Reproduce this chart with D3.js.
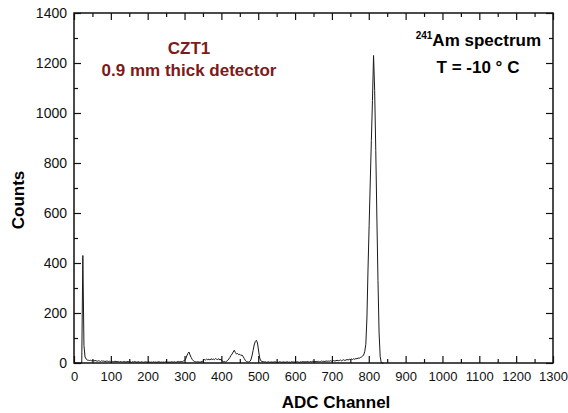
<!DOCTYPE html>
<html>
<head>
<meta charset="utf-8">
<script src="https://cdn.jsdelivr.net/npm/d3@7.9.0/dist/d3.min.js"></script>
<style>
  body { margin: 0; background: #fff; }
  svg { display: block; font-family: "Liberation Sans", Arial, sans-serif; }
</style>
</head>
<body>
<svg id="chart" width="568" height="413"></svg>
<script>
// spectrum sampled every 3 ADC channels, starting at channel 0
const channelStep = 3;
const counts = [
  0, 0, 0, 0, 0, 0, 0, 0, 430, 70,
  24, 16, 12, 11, 10, 11, 9, 10, 8, 10,
  9, 7, 9, 8, 6, 9, 7, 8, 6, 7,
  8, 6, 7, 5, 8, 6, 5, 7, 6, 5,
  6, 4, 6, 5, 4, 6, 5, 4, 5, 6,
  4, 5, 3, 5, 4, 6, 4, 3, 5, 4,
  3, 5, 4, 3, 4, 5, 3, 4, 4, 3,
  4, 3, 5, 3, 4, 3, 4, 5, 3, 4,
  3, 4, 3, 5, 4, 3, 4, 3, 5, 4,
  4, 5, 3, 4, 6, 4, 5, 6, 5, 8,
  10, 16, 28, 38, 44, 32, 22, 14, 9, 6,
  5, 4, 5, 4, 3, 5, 6, 10, 14, 12,
  16, 13, 15, 12, 17, 14, 16, 13, 18, 15,
  14, 17, 12, 15, 8, 5, 6, 4, 7, 10,
  16, 22, 30, 36, 44, 51, 42, 36, 38, 33,
  35, 30, 32, 26, 18, 10, 6, 5, 4, 6,
  12, 28, 50, 72, 86, 91, 80, 48, 20, 9,
  6, 5, 4, 5, 3, 4, 5, 3, 4, 4,
  3, 4, 5, 3, 4, 3, 5, 4, 3, 4,
  4, 3, 4, 5, 3, 4, 3, 5, 4, 4,
  3, 4, 5, 4, 3, 5, 4, 6, 4, 5,
  4, 6, 5, 4, 6, 5, 7, 5, 6, 5,
  6, 7, 5, 6, 8, 6, 7, 6, 8, 7,
  8, 7, 9, 7, 8, 10, 8, 9, 11, 9,
  10, 12, 9, 11, 13, 10, 12, 14, 12, 15,
  13, 16, 14, 17, 15, 18, 17, 20, 19, 22,
  24, 27, 32, 45, 75, 180, 380, 550, 720, 890,
  1050, 1230, 1090, 850, 580, 330, 120, 25, 0, 0,
  0
];

const xTicks = d3.range(0, 1301, 100);
const xMinorTicks = d3.range(50, 1300, 100);
const yTicks = d3.range(0, 1401, 200);
const yMinorTicks = d3.range(100, 1400, 200);

const plotLeft = 74, plotRight = 553, plotTop = 13, plotBottom = 363;

const x = d3.scaleLinear().domain([0, 1300]).range([plotLeft, plotRight]);
const y = d3.scaleLinear().domain([0, 1400]).range([plotBottom, plotTop]);

const svg = d3.select("#chart");

const spectrum = counts.map((c, i) => ({ ch: i * channelStep, c }));

svg.append("path")
  .datum(spectrum)
  .attr("fill", "none")
  .attr("stroke", "#1a1a1a")
  .attr("stroke-width", 1)
  .attr("d", d3.line().x(d => x(d.ch)).y(d => y(d.c)));

function styleAxis(g) {
  g.select(".domain").remove();
  g.selectAll("line").attr("stroke", "#111").attr("stroke-width", 1.2);
  g.selectAll("text").attr("fill", "#111");
  g.attr("font-family", null);
}

const plain = d3.format("d");

// major and minor ticks, pointing inward on all four sides
svg.append("g")
  .attr("transform", `translate(0,${plotBottom})`)
  .call(d3.axisBottom(x).tickValues(xTicks).tickFormat(plain).tickSize(-7).tickPadding(9))
  .attr("font-size", 13)
  .call(styleAxis);
svg.append("g")
  .attr("transform", `translate(0,${plotBottom})`)
  .call(d3.axisBottom(x).tickValues(xMinorTicks).tickSize(-4).tickFormat(""))
  .call(styleAxis);
svg.append("g")
  .attr("transform", `translate(0,${plotTop})`)
  .call(d3.axisTop(x).tickValues(xTicks).tickSize(-7).tickFormat(""))
  .call(styleAxis);
svg.append("g")
  .attr("transform", `translate(0,${plotTop})`)
  .call(d3.axisTop(x).tickValues(xMinorTicks).tickSize(-4).tickFormat(""))
  .call(styleAxis);

svg.append("g")
  .attr("transform", `translate(${plotLeft},0)`)
  .call(d3.axisLeft(y).tickValues(yTicks).tickFormat(plain).tickSize(-7).tickPadding(7))
  .attr("font-size", 14)
  .call(styleAxis);
svg.append("g")
  .attr("transform", `translate(${plotLeft},0)`)
  .call(d3.axisLeft(y).tickValues(yMinorTicks).tickSize(-4).tickFormat(""))
  .call(styleAxis);
svg.append("g")
  .attr("transform", `translate(${plotRight},0)`)
  .call(d3.axisRight(y).tickValues(yTicks).tickSize(-7).tickFormat(""))
  .call(styleAxis);
svg.append("g")
  .attr("transform", `translate(${plotRight},0)`)
  .call(d3.axisRight(y).tickValues(yMinorTicks).tickSize(-4).tickFormat(""))
  .call(styleAxis);

svg.append("rect")
  .attr("x", plotLeft).attr("y", plotTop)
  .attr("width", plotRight - plotLeft).attr("height", plotBottom - plotTop)
  .attr("fill", "none")
  .attr("stroke", "#111")
  .attr("stroke-width", 1.5);

// axis titles
svg.append("text")
  .attr("x", 336).attr("y", 408)
  .attr("text-anchor", "middle")
  .attr("font-size", 17).attr("font-weight", "bold")
  .text("ADC Channel");

svg.append("text")
  .attr("transform", "translate(24,200) rotate(-90)")
  .attr("text-anchor", "middle")
  .attr("font-size", 17).attr("font-weight", "bold")
  .text("Counts");

// annotations
const red = "#7d1a1a";
svg.append("text")
  .attr("x", 189).attr("y", 54)
  .attr("text-anchor", "middle").attr("fill", red)
  .attr("font-size", 17).attr("font-weight", "bold")
  .text("CZT1");
svg.append("text")
  .attr("x", 189).attr("y", 76)
  .attr("text-anchor", "middle").attr("fill", red)
  .attr("font-size", 17).attr("font-weight", "bold")
  .text("0.9 mm thick detector");

const iso = svg.append("text")
  .attr("x", 541).attr("y", 46)
  .attr("text-anchor", "end")
  .attr("font-size", 17).attr("font-weight", "bold");
iso.append("tspan").attr("font-size", 10).attr("dy", -7).text("241");
iso.append("tspan").attr("dy", 7).text("Am spectrum");

svg.append("text")
  .attr("x", 478).attr("y", 73)
  .attr("text-anchor", "middle")
  .attr("font-size", 17).attr("font-weight", "bold")
  .text("T = -10 ° C");
</script>
</body>
</html>
